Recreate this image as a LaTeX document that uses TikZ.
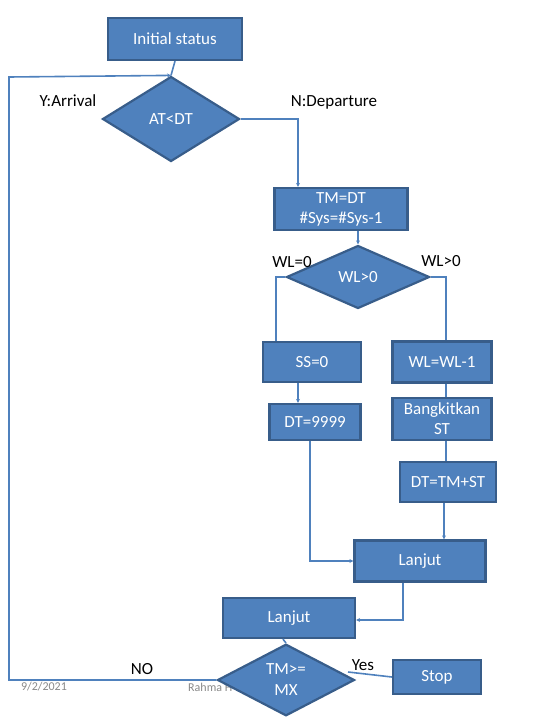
\documentclass[tikz,border=0pt]{standalone}
\usepackage{fontspec}
\setmainfont{Carlito}
\usetikzlibrary{shapes.geometric,arrows.meta}
\definecolor{BoxBlue}{RGB}{79,129,189}
\definecolor{BoxEdge}{RGB}{56,93,138}
\definecolor{FootGray}{RGB}{137,137,137}
\tikzset{
  blk/.style={rectangle,draw=BoxEdge,fill=BoxBlue,line width=2.2pt,text=white,
    font=\fontsize{17}{20}\selectfont,align=center,inner sep=0pt},
  dec/.style={diamond,draw=BoxEdge,fill=BoxBlue,line width=2.2pt,text=white,
    font=\fontsize{17}{21}\selectfont,align=center,inner sep=0pt},
  edge/.style={draw=BoxBlue,line width=1.6pt},
  tip/.style={-{Stealth[length=4pt,width=4pt]}},
  lbl/.style={font=\fontsize{17}{20}\selectfont,text=black,inner sep=0pt},
  foot/.style={font=\fontsize{12}{14}\selectfont,text=FootGray,inner sep=0pt},
}

\begin{document}
\begin{tikzpicture}[x=1pt,y=-1pt]
\useasboundingbox (0,0) rectangle (540,720);
% boxes and decisions
\node[blk,minimum width=134pt,minimum height=42pt] (init) at (175,39) {Initial status};
\node[dec,minimum width=137pt,minimum height=85pt] (atdt) at (171,119) {AT<DT};
\node[blk,minimum width=133pt,minimum height=42pt] (tmdt) at (341,209) {TM=DT\\\#Sys=\#Sys-1};
\node[dec,minimum width=143pt,minimum height=63pt] (wl) at (358,277) {WL>0};
\node[blk,minimum width=98pt,minimum height=40pt] (ss) at (312,362) {SS=0};
\node[blk,minimum width=99pt,minimum height=41pt] (wlm) at (442,362) {WL=WL-1};
\node[blk,minimum width=91pt,minimum height=36pt] (dt9) at (315,422) {DT=9999};
\node[blk,minimum width=99pt,minimum height=42pt] (gen) at (442,419) {Bangkitkan\\ST};
\node[blk,minimum width=96pt,minimum height=40pt] (dtst) at (448,482) {DT=TM+ST};
\node[blk,minimum width=131pt,minimum height=41pt] (lj1) at (420,561) {Lanjut};
\node[blk,minimum width=132pt,minimum height=40pt] (lj2) at (289,618) {Lanjut};
% footer
\node[foot] (date) at (44,687) {9/2/2021};
\node[foot,anchor=west] (auth) at (188,687) {Rahma H};
\node[dec,minimum width=137pt,minimum height=64pt] (tmx) at (286,680) {TM>=\\MX};
\node[blk,minimum width=88pt,minimum height=34pt] (stop) at (437,677) {Stop};
% labels
\node[lbl] (ya) at (68,101) {Y:Arrival};
\node[lbl] (nd) at (334,102) {N:Departure};
\node[lbl] (wl0) at (292,262) {WL=0};
\node[lbl] (wlp) at (441,261) {WL>0};
\node[lbl] (yes) at (363,665) {Yes};
\node[lbl] (no) at (142,669) {NO};
\coordinate (back) at (9,77);
\coordinate (yx) at (348,672);
% connectors
\draw[edge] (init.south) -- (atdt.north);
\draw[edge,tip] (atdt.east) -| ([xshift=-43pt]tmdt.north);
\draw[edge,tip] (tmdt.south -| wl.north) -- (wl.north);
\draw[edge] (wl.west) -| ([xshift=-36pt]ss.north);
\draw[edge] (wl.east) -| ([xshift=4pt]wlm.north);
\draw[edge,tip] ([xshift=-14pt]ss.south) -- ([xshift=-17pt]dt9.north);
\draw[edge] ([xshift=4pt]wlm.south) -- ([xshift=4pt]gen.north);
\draw[edge] ([xshift=4pt]gen.south) -- ([xshift=-2pt]dtst.north);
\draw[edge,tip] ([xshift=-4pt]dtst.south) -- ([xshift=24pt]lj1.north);
\draw[edge,tip] ([xshift=-5pt]dt9.south) |- (lj1.west);
\draw[edge,tip] ([xshift=-17pt]lj1.south) |- ([yshift=-2pt]lj2.east);
\draw[edge] ([xshift=-6pt]lj2.south) -- (tmx.north);
\draw[edge] (yx) -- (stop.west);
\draw[edge,tip] (tmx.west) -| (back) -- (atdt.north);
\end{tikzpicture}
\end{document}
